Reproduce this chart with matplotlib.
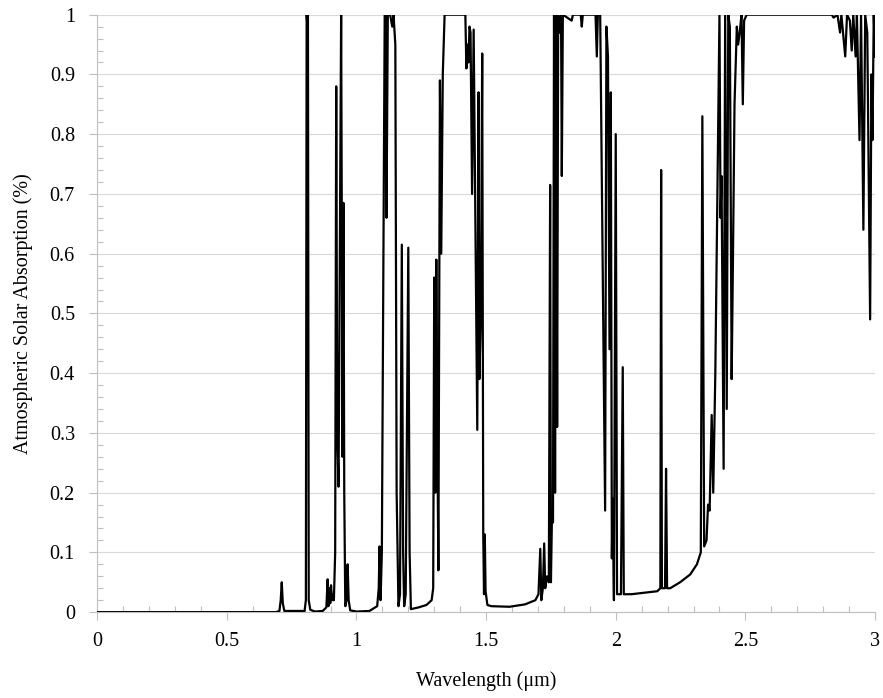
#!/usr/bin/env python3
"""Plot atmospheric solar absorption versus wavelength."""

from __future__ import annotations

from pathlib import Path

import matplotlib

matplotlib.use("Agg")
import matplotlib.pyplot as plt
from matplotlib.ticker import MultipleLocator

# Wavelength (um) and absorption
WAVELENGTH = [
    0.0, 0.69, 0.703, 0.708, 0.712, 0.716, 0.722, 0.80, 0.805, 0.808,
    0.811, 0.813, 0.816, 0.822, 0.84, 0.87, 0.884, 0.889, 0.892, 0.896,
    0.899, 0.902, 0.906, 0.909, 0.913, 0.918, 0.922, 0.926, 0.931, 0.936,
    0.941, 0.944, 0.946, 0.950, 0.953, 0.957, 0.962, 0.966, 0.970, 0.976,
    1.00, 1.05, 1.08, 1.086, 1.089, 1.093, 1.098, 1.104, 1.109, 1.113,
    1.116, 1.121, 1.13, 1.138, 1.143, 1.150, 1.155, 1.162, 1.168, 1.175,
    1.180, 1.184, 1.190, 1.200, 1.205, 1.210, 1.24, 1.27, 1.29, 1.296,
    1.300, 1.304, 1.308, 1.312, 1.316, 1.322, 1.327, 1.333, 1.340, 1.42,
    1.424, 1.428, 1.432, 1.436, 1.440, 1.446, 1.452, 1.460, 1.466, 1.471,
    1.474, 1.480, 1.485, 1.489, 1.492, 1.495, 1.498, 1.505, 1.52, 1.59,
    1.65, 1.69, 1.702, 1.709, 1.713, 1.719, 1.724, 1.728, 1.735, 1.742,
    1.747, 1.750, 1.754, 1.758, 1.762, 1.766, 1.770, 1.774, 1.778, 1.783,
    1.789, 1.792, 1.796, 1.83, 1.835, 1.865, 1.869, 1.873, 1.922, 1.927,
    1.931, 1.940, 1.959, 1.964, 1.970, 1.976, 1.981, 1.985, 1.988, 1.993,
    2.000, 2.005, 2.02, 2.027, 2.031, 2.06, 2.10, 2.16, 2.172, 2.175,
    2.178, 2.19, 2.194, 2.198, 2.21, 2.248, 2.287, 2.313, 2.328, 2.334,
    2.341, 2.350, 2.356, 2.362, 2.370, 2.376, 2.384, 2.392, 2.400, 2.404,
    2.408, 2.416, 2.422, 2.428, 2.434, 2.440, 2.447, 2.452, 2.458, 2.467,
    2.472, 2.478, 2.485, 2.490, 2.495, 2.505, 2.833, 2.840, 2.855, 2.865,
    2.870, 2.885, 2.892, 2.903, 2.910, 2.916, 2.925, 2.930, 2.940, 2.946,
    2.955, 2.962, 2.970, 2.981, 2.986, 2.990, 2.995, 3.0,
]
ABSORPTION = [
    0.0, 0.0, 0.002, 0.02, 0.05, 0.015, 0.002, 0.002, 0.02, 1.0,
    0.98, 1.0, 0.02, 0.004, 0.001, 0.002, 0.008, 0.055, 0.01, 0.04,
    0.015, 0.045, 0.02, 0.03, 0.02, 0.1, 0.88, 0.3, 0.21, 0.6,
    1.0, 0.6, 0.26, 0.685, 0.2, 0.01, 0.02, 0.08, 0.02, 0.003,
    0.001, 0.002, 0.01, 0.04, 0.11, 0.02, 0.1, 0.6, 1.0, 1.0,
    0.66, 1.0, 1.0, 0.98, 1.0, 0.95, 0.2, 0.01, 0.03, 0.615,
    0.1, 0.01, 0.03, 0.61, 0.1, 0.005, 0.008, 0.012, 0.02, 0.04,
    0.56, 0.2, 0.59, 0.3, 0.07, 0.89, 0.6, 0.9, 1.0, 1.0,
    0.91, 0.95, 0.92, 0.98, 0.97, 0.70, 0.975, 0.6, 0.305, 0.87,
    0.39, 0.5, 0.935, 0.13, 0.03, 0.13, 0.035, 0.012, 0.01, 0.009,
    0.013, 0.02, 0.03, 0.106, 0.02, 0.04, 0.115, 0.04, 0.06, 0.05,
    0.715, 0.05, 0.16, 0.15, 1.0, 0.2, 1.0, 0.31, 1.0, 0.97,
    1.0, 0.73, 1.0, 0.99, 1.0, 1.0, 0.98, 1.0, 1.0, 0.93,
    1.0, 1.0, 0.17, 0.98, 0.93, 0.44, 0.87, 0.09, 0.19, 0.02,
    0.8, 0.03, 0.03, 0.41, 0.03, 0.03, 0.032, 0.035, 0.04, 0.74,
    0.04, 0.04, 0.24, 0.04, 0.04, 0.05, 0.063, 0.08, 0.1, 0.83,
    0.11, 0.12, 0.18, 0.17, 0.33, 0.2, 0.4, 0.7, 1.0, 0.66,
    0.73, 0.24, 1.0, 0.34, 1.0, 0.98, 0.39, 0.59, 0.85, 0.98,
    0.95, 0.97, 1.0, 0.85, 0.99, 1.0, 1.0, 0.995, 1.0, 0.97,
    1.0, 0.93, 1.0, 0.99, 0.94, 1.0, 0.93, 1.0, 0.79, 1.0,
    0.64, 1.0, 0.97, 0.49, 0.9, 0.79, 1.0, 0.93,
]

X_TICKS = [0, 0.5, 1, 1.5, 2, 2.5, 3]
X_TICK_LABELS = ["0", "0.5", "1", "1.5", "2", "2.5", "3"]
Y_TICKS = [0, 0.1, 0.2, 0.3, 0.4, 0.5, 0.6, 0.7, 0.8, 0.9, 1]
Y_TICK_LABELS = ["0", "0.1", "0.2", "0.3", "0.4", "0.5", "0.6", "0.7", "0.8", "0.9", "1"]

GRID_GREY = "#d9d9d9"
AXIS_GREY = "#bfbfbf"


def plot_absorption(output_path: Path) -> None:
    plt.rcParams["font.family"] = ["Liberation Serif", "DejaVu Serif"]

    fig = plt.figure(figsize=(8.83, 6.98), dpi=100)
    ax = fig.add_axes([0.110, 0.123, 0.881, 0.856])

    ax.plot(WAVELENGTH, ABSORPTION, color="black", linewidth=1.6, zorder=3)

    ax.set_xlim(0, 3)
    ax.set_ylim(0, 1)

    # ----------------------------
    # Ticks and grid
    # ----------------------------
    ax.set_xticks(X_TICKS)
    ax.set_xticklabels(X_TICK_LABELS)
    ax.set_yticks(Y_TICKS)
    ax.set_yticklabels(Y_TICK_LABELS)
    ax.xaxis.set_minor_locator(MultipleLocator(0.1))
    ax.yaxis.set_minor_locator(MultipleLocator(0.02))

    ax.tick_params(axis="both", which="major", direction="out", length=6,
                   width=0.8, color=AXIS_GREY, labelsize=14.5, pad=8)
    ax.tick_params(axis="y", which="major", pad=10)
    ax.tick_params(axis="both", which="minor", direction="in", length=4,
                   width=0.8, color=AXIS_GREY)

    ax.grid(True, axis="y", which="major", color=GRID_GREY, linewidth=0.8)
    ax.set_axisbelow(True)

    for side in ("top", "right"):
        ax.spines[side].set_visible(False)
    for side in ("left", "bottom"):
        ax.spines[side].set_color(AXIS_GREY)
        ax.spines[side].set_linewidth(0.8)

    ax.set_xlabel("Wavelength (μm)", fontsize=14.5, labelpad=15)
    ax.set_ylabel("Atmospheric Solar Absorption (%)", fontsize=14.5, labelpad=12)

    fig.savefig(output_path, dpi=100)
    plt.close(fig)


def main() -> None:
    plot_absorption(Path("out.png"))


if __name__ == "__main__":
    main()
